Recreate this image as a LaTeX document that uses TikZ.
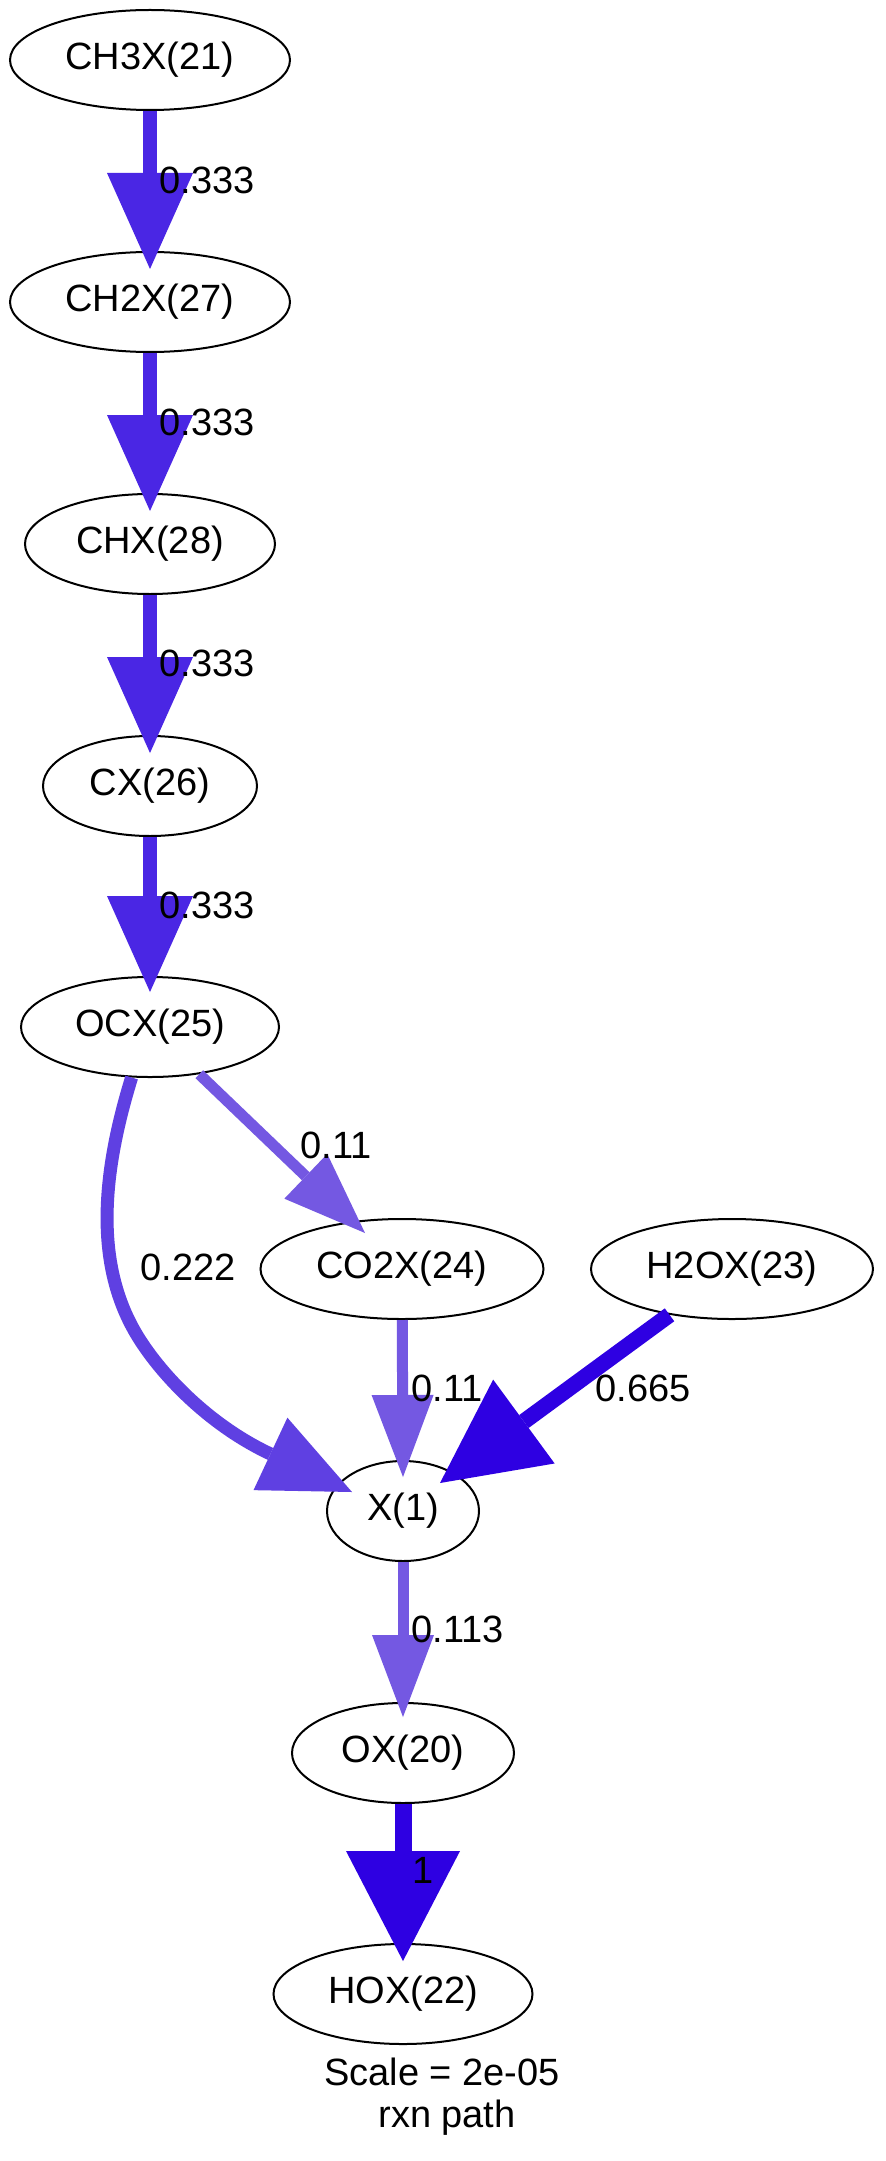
\documentclass[tikz,border=0pt]{standalone}
\usepackage{fontspec}
\setmainfont{Liberation Sans}
\usetikzlibrary{arrows.meta,calc,shapes.geometric}
\definecolor{cA}{RGB}{74,38,228}
\definecolor{cB}{RGB}{95,64,226}
\definecolor{cC}{RGB}{116,88,226}
\definecolor{cD}{RGB}{46,0,226}
\begin{document}
\begin{tikzpicture}[x=0.5pt,y=-0.5pt,
  nd/.style={draw=black,line width=1pt,ellipse,minimum height=50pt,inner sep=0pt,font=\fontsize{19}{22}\selectfont},
  lbl/.style={font=\fontsize{19}{22}\selectfont,inner sep=0pt,anchor=west},
  eA/.style={draw=cA,line width=7pt,-{Triangle[length=48pt,width=43pt,line width=0pt]}},
  eB/.style={draw=cB,line width=6.5pt,-{Triangle[length=45pt,width=40pt,line width=0pt]}},
  eC/.style={draw=cC,line width=5.5pt,-{Triangle[length=41pt,width=31pt,line width=0pt]}},
  eD/.style={draw=cD,line width=8pt,-{Triangle[length=52pt,width=52pt,line width=0pt]}},
  eE/.style={draw=cD,line width=8.5pt,-{Triangle[length=55pt,width=57pt,line width=0pt]}}]
\useasboundingbox[fill=white] (0,0) rectangle (885,2161);
% nodes
\node[nd,minimum width=140pt] (ch3x) at (150,60) {CH3X(21)};
\node[nd,minimum width=140pt] (ch2x) at (150,302) {CH2X(27)};
\node[nd,minimum width=125pt] (chx) at (150,544) {CHX(28)};
\node[nd,minimum width=107pt] (cx) at (150,786) {CX(26)};
\node[nd,minimum width=129pt] (ocx) at (150,1027) {OCX(25)};
\node[nd,minimum width=141.5pt] (co2x) at (402,1269) {CO2X(24)};
\node[nd,minimum width=141pt] (h2ox) at (732,1269) {H2OX(23)};
\node[nd,minimum width=76pt] (x) at (403,1511) {X(1)};
\node[nd,minimum width=111pt] (ox) at (403,1753) {OX(20)};
\node[nd,minimum width=129.5pt] (hox) at (403,1994) {HOX(22)};
% edges
\draw[eA] (ch3x) -- ($(ch2x.north)+(0,18)$);
\draw[eA] (ch2x) -- ($(chx.north)+(0,18)$);
\draw[eA] (chx) -- ($(cx.north)+(0,18)$);
\draw[eA] (cx) -- ($(ocx.north)+(0,16)$);
\draw[eC] (ocx) -- ($(co2x)+(-37,-36)$);
\draw[eB] (ocx.250) .. controls (100,1180) and (95,1270) .. (140,1340)
   .. controls (167,1382) and (215,1428) .. ($(x)+(-51,-19)$);
\draw[eC] (co2x) -- ($(x.north)+(0,17)$);
\draw[eD] (h2ox) -- ($(x)+(37,-28)$);
\draw[eC] (x) -- ($(ox.north)+(0,15)$);
\draw[eE] (ox) -- ($(hox.north)+(0,18)$);
% labels
\node[lbl] (l1) at (159,180) {0.333};
\node[lbl] (l2) at (159,422) {0.333};
\node[lbl] (l3) at (159,663) {0.333};
\node[lbl] (l4) at (159,905) {0.333};
\node[lbl] (l5) at (140,1267) {0.222};
\node[lbl] (l6) at (300,1145) {0.11};
\node[lbl] (l7) at (411,1388) {0.11};
\node[lbl] (l8) at (595,1388) {0.665};
\node[lbl] (l9) at (411,1629) {0.113};
\node[lbl] (l10) at (412,1870) {1};
\node[font=\fontsize{19}{22}\selectfont,inner sep=0pt,anchor=base] (sc) at (442,2085) {Scale = 2e-05};
\node[font=\fontsize{19}{22}\selectfont,inner sep=0pt,anchor=base] (rp) at (447,2127) {rxn path};
\end{tikzpicture}
\end{document}
